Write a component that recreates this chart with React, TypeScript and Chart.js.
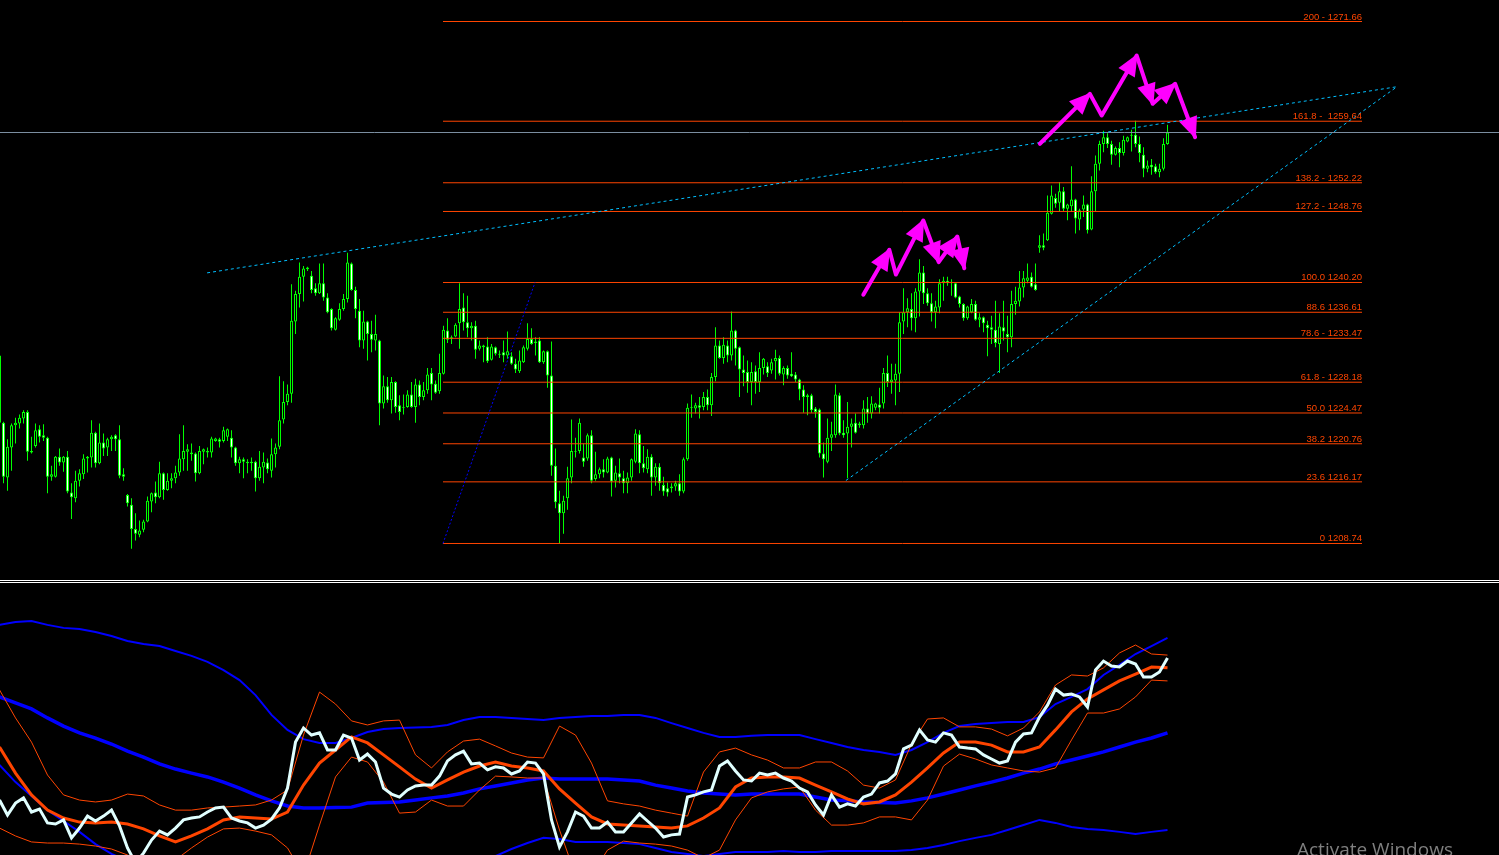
import React, { useEffect, useRef } from "react";
import { Chart, registerables } from "chart.js";

Chart.register(...registerables);

// ---------- price panel data (bar index -1 is the partly hidden first bar) ----------
const firstBar = -1;

const opens = [
  1231.4, 1223.3, 1216.7, 1220.3, 1223.0, 1223.2, 1223.8, 1224.6, 1219.9, 1220.5,
  1222.5, 1221.8, 1221.5, 1216.8, 1216.8, 1219.2, 1218.5, 1219.2, 1214.9, 1214.2,
  1216.3, 1217.1, 1219.0, 1219.1, 1222.1, 1218.4, 1220.9, 1220.3, 1221.3, 1221.8,
  1221.3, 1217.1, 1214.6, 1213.4, 1210.5, 1209.8, 1210.4, 1211.4, 1213.8, 1214.9,
  1214.3, 1217.2, 1215.2, 1216.3, 1216.6, 1217.3, 1218.9, 1219.8, 1219.7, 1219.6,
  1217.2, 1219.8, 1219.9, 1219.7, 1221.1, 1221.3, 1221.1, 1221.6, 1221.5, 1220.3,
  1218.4, 1218.9, 1218.6, 1218.4, 1218.6, 1216.6, 1217.9, 1218.5, 1217.5, 1219.5,
  1220.4, 1223.7, 1225.8, 1226.8, 1235.5, 1238.8, 1240.9, 1241.8, 1241.0, 1239.5,
  1238.9, 1240.1, 1238.4, 1237.0, 1234.5, 1235.7, 1237.0, 1238.2, 1242.5, 1239.3,
  1236.8, 1233.2, 1235.5, 1234.0, 1233.2, 1233.2, 1225.6, 1227.7, 1226.0, 1228.2,
  1225.4, 1225.1, 1225.2, 1226.7, 1225.2, 1227.9, 1226.4, 1227.2, 1229.3, 1228.0,
  1227.1, 1229.2, 1234.4, 1233.4, 1233.7, 1235.3, 1237.2, 1235.4, 1234.7, 1235.0,
  1232.2, 1232.6, 1232.5, 1230.9, 1232.4, 1231.5, 1231.8, 1231.4, 1231.3, 1230.4,
  1229.5, 1230.6, 1232.2, 1233.4, 1232.9, 1233.2, 1230.6, 1231.9, 1229.0, 1218.1,
  1213.6, 1212.4, 1214.2, 1216.7, 1219.8, 1219.9, 1219.1, 1219.0, 1221.8, 1216.5,
  1217.1, 1217.7, 1217.3, 1219.1, 1216.3, 1217.2, 1216.6, 1216.0, 1216.7, 1218.6,
  1221.9, 1218.4, 1217.7, 1219.2, 1216.7, 1218.0, 1215.8, 1215.4, 1215.4, 1215.6,
  1216.0, 1215.0, 1218.9, 1225.1, 1225.0, 1225.4, 1225.2, 1226.4, 1225.4, 1228.8,
  1232.6, 1231.1, 1232.6, 1231.4, 1234.4, 1232.4, 1229.7, 1229.4, 1228.2, 1229.5,
  1228.2, 1229.9, 1230.1, 1229.6, 1230.7, 1231.1, 1229.1, 1229.9, 1229.2, 1229.1,
  1228.5, 1227.3, 1226.4, 1226.6, 1225.0, 1224.9, 1219.6, 1218.6, 1221.5, 1221.8,
  1226.6, 1222.1, 1222.0, 1222.8, 1223.3, 1223.0, 1223.0, 1225.0, 1224.4, 1225.1,
  1225.5, 1225.6, 1229.3, 1228.2, 1228.4, 1229.2, 1235.5, 1236.6, 1237.0, 1235.9,
  1239.1, 1241.4, 1238.9, 1237.7, 1236.6, 1237.2, 1240.1, 1240.4, 1240.1, 1240.1,
  1238.5, 1237.6, 1235.9, 1236.6, 1237.6, 1235.7, 1236.0, 1235.1, 1234.8, 1234.5,
  1232.8, 1234.8, 1234.0, 1233.6, 1237.6, 1237.9, 1239.6, 1240.4, 1240.9, 1240.0,
  1244.4, 1244.7, 1245.3, 1248.5, 1250.4, 1249.8, 1251.2, 1249.1, 1249.4, 1250.2,
  1247.8, 1249.0, 1249.6, 1246.6, 1251.2, 1254.5, 1256.9, 1257.7, 1256.9, 1255.6,
  1256.4, 1255.8, 1257.2, 1257.9, 1258.0, 1256.9, 1255.6, 1253.9, 1254.4, 1254.2,
  1253.5, 1253.9, 1256.9,
];

const highs = [
  1231.8, 1223.4, 1221.3, 1223.2, 1223.9, 1224.3, 1224.8, 1224.8, 1221.6, 1223.2,
  1223.0, 1223.1, 1221.6, 1218.1, 1219.3, 1220.2, 1219.3, 1219.9, 1216.0, 1217.5,
  1217.7, 1219.5, 1219.3, 1223.6, 1222.2, 1223.2, 1222.0, 1221.5, 1221.8, 1221.9,
  1223.0, 1217.8, 1214.7, 1214.2, 1212.4, 1211.5, 1211.6, 1214.4, 1214.9, 1216.2,
  1218.6, 1217.3, 1217.2, 1217.2, 1218.1, 1221.9, 1223.0, 1220.7, 1220.8, 1219.7,
  1220.5, 1220.2, 1220.3, 1221.6, 1221.5, 1221.5, 1222.8, 1222.6, 1222.4, 1220.4,
  1219.2, 1219.1, 1218.9, 1219.1, 1218.7, 1219.9, 1219.7, 1219.0, 1221.4, 1220.8,
  1228.9, 1228.3, 1227.9, 1240.0, 1239.2, 1242.6, 1242.2, 1242.1, 1241.6, 1240.1,
  1242.5, 1242.5, 1238.9, 1237.1, 1236.0, 1237.7, 1238.8, 1243.8, 1242.6, 1239.7,
  1238.2, 1236.8, 1235.6, 1235.6, 1236.3, 1233.3, 1229.0, 1228.8, 1228.8, 1228.3,
  1226.6, 1226.7, 1227.2, 1228.2, 1228.6, 1228.4, 1228.2, 1229.9, 1229.9, 1228.4,
  1231.6, 1235.0, 1235.9, 1233.8, 1235.3, 1240.1, 1238.9, 1238.6, 1235.4, 1235.6,
  1233.2, 1232.7, 1233.6, 1232.8, 1232.5, 1232.0, 1233.2, 1234.3, 1231.8, 1231.0,
  1232.0, 1232.6, 1235.3, 1234.7, 1233.6, 1233.6, 1232.0, 1232.0, 1233.1, 1220.2,
  1215.1, 1214.5, 1218.0, 1223.7, 1221.5, 1223.8, 1220.8, 1222.0, 1222.4, 1219.8,
  1217.9, 1218.9, 1219.2, 1219.2, 1218.1, 1219.0, 1217.5, 1217.3, 1219.0, 1222.5,
  1222.4, 1220.5, 1220.1, 1219.5, 1218.4, 1218.4, 1216.8, 1216.1, 1216.0, 1216.3,
  1217.1, 1219.1, 1225.6, 1226.7, 1225.7, 1226.4, 1227.0, 1227.3, 1229.3, 1234.8,
  1233.2, 1233.6, 1233.2, 1236.7, 1234.5, 1232.5, 1231.4, 1230.8, 1230.6, 1230.2,
  1231.8, 1231.1, 1230.6, 1231.0, 1232.1, 1231.4, 1230.1, 1230.2, 1231.8, 1229.4,
  1228.6, 1227.8, 1226.8, 1226.8, 1225.2, 1225.0, 1220.9, 1223.8, 1223.4, 1227.9,
  1226.9, 1223.6, 1225.8, 1223.8, 1224.4, 1223.4, 1226.0, 1226.4, 1226.5, 1225.7,
  1227.5, 1229.9, 1231.4, 1230.4, 1230.4, 1236.6, 1239.5, 1238.3, 1238.9, 1239.5,
  1243.0, 1242.2, 1239.5, 1238.9, 1238.0, 1240.6, 1240.9, 1240.9, 1240.6, 1240.2,
  1238.6, 1237.7, 1237.4, 1238.2, 1238.0, 1236.5, 1236.1, 1235.6, 1236.2, 1238.0,
  1236.5, 1238.0, 1236.2, 1239.2, 1239.7, 1241.6, 1241.6, 1242.5, 1241.4, 1242.5,
  1245.9, 1246.1, 1250.7, 1251.9, 1250.9, 1252.3, 1251.7, 1249.7, 1254.2, 1250.3,
  1249.1, 1250.7, 1249.7, 1253.0, 1255.5, 1257.3, 1258.5, 1258.2, 1257.3, 1256.6,
  1257.1, 1257.9, 1257.8, 1258.6, 1259.7, 1257.8, 1256.5, 1254.9, 1255.1, 1254.5,
  1254.5, 1257.6, 1259.2,
];

const lows = [
  1223.1, 1216.0, 1215.1, 1217.5, 1220.8, 1222.6, 1223.2, 1218.7, 1219.6, 1220.3,
  1220.9, 1221.1, 1214.8, 1216.3, 1216.7, 1218.1, 1217.4, 1214.8, 1211.7, 1213.7,
  1215.6, 1216.5, 1217.3, 1217.9, 1217.9, 1218.3, 1219.3, 1219.3, 1219.9, 1219.9,
  1216.6, 1216.3, 1213.2, 1208.1, 1209.1, 1209.5, 1210.1, 1211.3, 1212.5, 1213.6,
  1214.2, 1214.0, 1215.1, 1215.4, 1216.0, 1216.9, 1217.5, 1217.5, 1218.7, 1216.2,
  1217.1, 1218.3, 1219.1, 1219.1, 1221.0, 1220.3, 1220.9, 1221.1, 1219.1, 1218.1,
  1217.2, 1216.6, 1217.2, 1217.5, 1215.0, 1216.3, 1216.0, 1217.2, 1216.7, 1217.9,
  1220.1, 1223.2, 1225.4, 1225.7, 1234.0, 1237.2, 1237.9, 1241.6, 1238.9, 1238.6,
  1238.8, 1238.0, 1236.5, 1234.4, 1234.4, 1235.6, 1236.8, 1237.8, 1239.2, 1235.9,
  1232.4, 1232.2, 1230.8, 1231.8, 1232.0, 1223.0, 1225.0, 1225.7, 1224.4, 1224.5,
  1223.6, 1224.3, 1225.1, 1225.1, 1223.3, 1225.4, 1226.0, 1226.8, 1226.0, 1226.8,
  1226.8, 1229.1, 1232.9, 1232.8, 1233.6, 1232.2, 1234.4, 1233.6, 1233.2, 1231.0,
  1232.0, 1230.6, 1230.5, 1230.8, 1231.4, 1231.1, 1230.6, 1231.0, 1230.3, 1229.3,
  1229.3, 1230.5, 1232.0, 1232.7, 1231.4, 1230.5, 1230.4, 1227.5, 1216.9, 1213.0,
  1208.7, 1209.9, 1212.8, 1216.0, 1219.1, 1219.6, 1218.0, 1218.7, 1216.0, 1216.3,
  1216.6, 1216.7, 1217.2, 1214.4, 1215.5, 1216.0, 1214.8, 1214.8, 1216.3, 1218.4,
  1217.2, 1217.3, 1217.2, 1214.5, 1215.7, 1215.1, 1214.5, 1214.4, 1214.9, 1215.1,
  1214.5, 1214.8, 1218.7, 1223.9, 1224.4, 1223.8, 1224.8, 1224.8, 1224.1, 1228.3,
  1231.0, 1230.4, 1230.6, 1230.8, 1230.2, 1226.4, 1227.7, 1226.9, 1225.4, 1226.8,
  1227.0, 1229.1, 1228.8, 1229.2, 1228.5, 1229.0, 1227.8, 1228.6, 1228.8, 1228.2,
  1226.0, 1224.5, 1224.2, 1224.5, 1223.9, 1219.1, 1216.7, 1218.4, 1219.9, 1221.5,
  1221.8, 1221.5, 1216.6, 1220.3, 1222.0, 1222.7, 1222.6, 1223.3, 1223.8, 1224.8,
  1224.4, 1225.0, 1227.6, 1226.8, 1225.4, 1227.0, 1234.0, 1234.8, 1234.4, 1234.2,
  1236.1, 1237.6, 1237.4, 1235.5, 1234.7, 1236.5, 1238.0, 1239.8, 1238.6, 1238.3,
  1237.2, 1235.6, 1235.7, 1236.5, 1235.6, 1234.8, 1234.2, 1231.3, 1232.8, 1232.4,
  1229.3, 1233.2, 1231.8, 1232.4, 1236.3, 1237.3, 1238.4, 1240.1, 1239.6, 1239.2,
  1243.8, 1244.1, 1245.2, 1248.4, 1249.2, 1248.8, 1248.8, 1247.7, 1248.8, 1246.1,
  1246.5, 1248.1, 1246.1, 1246.5, 1248.8, 1253.7, 1255.9, 1256.4, 1254.4, 1255.5,
  1254.1, 1255.5, 1257.1, 1256.0, 1256.5, 1254.7, 1252.9, 1253.5, 1253.2, 1253.3,
  1252.9, 1253.7, 1256.8,
];

const closes = [
  1223.3, 1216.8, 1220.4, 1223.0, 1223.3, 1223.9, 1224.6, 1219.8, 1219.7, 1222.4,
  1221.6, 1221.5, 1216.8, 1217.1, 1219.2, 1218.5, 1219.2, 1215.0, 1214.3, 1216.3,
  1217.2, 1219.0, 1219.2, 1222.1, 1218.4, 1220.9, 1220.2, 1221.3, 1221.6, 1221.3,
  1216.9, 1216.8, 1213.6, 1210.5, 1209.9, 1210.3, 1211.4, 1213.9, 1214.8, 1214.3,
  1217.2, 1215.2, 1216.3, 1216.6, 1217.3, 1219.0, 1219.9, 1220.1, 1219.5, 1217.2,
  1219.9, 1220.1, 1219.7, 1221.4, 1221.4, 1221.0, 1222.4, 1222.5, 1220.3, 1218.4,
  1218.9, 1218.6, 1218.4, 1218.6, 1216.6, 1218.0, 1218.6, 1217.7, 1219.5, 1220.3,
  1223.6, 1225.8, 1226.8, 1235.6, 1238.8, 1240.9, 1241.9, 1242.0, 1239.3, 1238.9,
  1240.1, 1238.4, 1236.6, 1234.7, 1235.9, 1237.0, 1238.2, 1242.6, 1239.3, 1237.0,
  1233.2, 1235.5, 1234.0, 1233.3, 1234.0, 1225.6, 1227.7, 1226.0, 1228.2, 1225.2,
  1224.6, 1225.2, 1226.7, 1225.2, 1227.9, 1226.4, 1227.2, 1229.1, 1227.9, 1226.9,
  1229.3, 1234.5, 1233.3, 1233.6, 1235.1, 1237.0, 1235.4, 1234.7, 1235.0, 1232.1,
  1232.6, 1232.4, 1230.7, 1232.5, 1231.6, 1231.6, 1231.4, 1231.9, 1230.4, 1229.7,
  1230.8, 1232.4, 1233.4, 1232.8, 1233.1, 1230.6, 1231.9, 1229.0, 1218.1, 1213.7,
  1212.4, 1213.9, 1216.6, 1219.9, 1219.9, 1223.3, 1218.6, 1221.8, 1216.3, 1217.1,
  1217.7, 1217.3, 1219.0, 1216.2, 1217.3, 1216.7, 1216.0, 1216.7, 1218.9, 1222.0,
  1218.4, 1217.8, 1219.2, 1216.7, 1218.0, 1216.0, 1215.0, 1214.9, 1215.6, 1216.0,
  1215.0, 1218.9, 1225.1, 1225.2, 1225.4, 1225.1, 1226.4, 1225.4, 1228.8, 1232.6,
  1231.1, 1232.7, 1231.4, 1234.4, 1232.2, 1229.7, 1229.3, 1228.2, 1229.4, 1228.2,
  1229.9, 1231.0, 1229.3, 1230.6, 1231.1, 1229.2, 1229.9, 1229.0, 1228.9, 1228.5,
  1227.3, 1226.4, 1226.6, 1224.8, 1224.6, 1219.6, 1218.9, 1221.5, 1221.9, 1226.7,
  1222.0, 1221.8, 1222.8, 1223.2, 1222.1, 1223.2, 1225.0, 1224.4, 1225.6, 1225.6,
  1225.1, 1229.3, 1228.2, 1228.5, 1229.2, 1235.4, 1236.6, 1237.1, 1235.9, 1239.1,
  1241.4, 1238.9, 1237.7, 1236.6, 1237.3, 1240.1, 1240.4, 1240.1, 1240.2, 1238.4,
  1237.6, 1235.9, 1237.3, 1237.6, 1235.7, 1236.0, 1235.3, 1234.7, 1234.5, 1232.9,
  1234.9, 1234.3, 1233.6, 1237.6, 1238.0, 1239.6, 1240.7, 1240.8, 1239.7, 1239.3,
  1244.7, 1244.4, 1248.6, 1250.7, 1249.7, 1251.2, 1249.1, 1249.6, 1250.2, 1247.9,
  1248.9, 1249.6, 1246.5, 1251.2, 1254.5, 1256.9, 1257.7, 1256.9, 1255.6, 1256.4,
  1255.8, 1257.4, 1257.7, 1258.0, 1256.9, 1255.8, 1253.9, 1254.3, 1254.1, 1253.5,
  1253.9, 1256.9, 1258.28,
];

// Fibonacci expansion levels
const fibLevels = [1271.66, 1259.64, 1252.22, 1248.76, 1240.2, 1236.61, 1233.47, 1228.18, 1224.47, 1220.76, 1216.17, 1208.74];
const fibLabels = [
  "200 - 1271.66", "161.8 -  1259.64", "138.2 - 1252.22", "127.2 - 1248.76",
  "100.0 1240.20", "88.6 1236.61", "78.6 - 1233.47", "61.8 - 1228.18",
  "50.0 1224.47", "38.2 1220.76", "23.6 1216.17", "0 1208.74",
];
const fibStartBar = 109.875;
const fibEndBar = 339.625;
const bidPrice = 1258.28;

// drawn objects (bar index, price)
const trendUpper = [{ x: 50.9, y: 1241.36 }, { x: 348.4, y: 1263.8 }];
const trendLower = [{ x: 210.6, y: 1216.33 }, { x: 348.4, y: 1263.8 }];
const fibDiagonal = [{ x: 109.875, y: 1208.74 }, { x: 132.875, y: 1240.2 }];
const arrowLeft = [
  { x: 214.95, y: 1238.72 }, { x: 221.45, y: 1244.14 }, { x: 223.1, y: 1241.16 },
  { x: 229.95, y: 1247.67 }, { x: 233.8, y: 1242.65 }, { x: 238.45, y: 1245.74 }, { x: 240.2, y: 1241.92 },
];
const arrowRight = [
  { x: 259.1, y: 1256.92 }, { x: 271.6, y: 1262.94 }, { x: 274.55, y: 1260.33 },
  { x: 283.3, y: 1267.56 }, { x: 287.3, y: 1261.74 }, { x: 292.9, y: 1264.15 }, { x: 297.9, y: 1257.71 },
];
const arrowHeadIdx = [1, 3, 4, 5, 6];

// ---------- indicator panel (every 4th bar for smooth lines, every 2nd bar for the oscillator) ----------
const blueUpper = [84.6, 85.7, 86.0, 84.6, 83.5, 83.1, 82.0, 80.5, 78.7, 77.6, 76.8, 75.0, 73.2, 71.0, 68.0, 64.3, 58.8, 51.5, 46.0, 42.6, 41.2, 41.2, 43.0, 45.2, 46.3, 46.7, 46.9, 47.1, 47.8, 49.6, 50.7, 50.7, 50.4, 50.0, 49.6, 50.4, 50.7, 51.1, 51.1, 51.5, 51.5, 50.4, 48.5, 46.7, 44.9, 43.4, 43.4, 43.8, 44.1, 44.1, 44.1, 42.6, 41.2, 39.7, 38.6, 37.9, 36.8, 38.6, 41.5, 44.9, 47.4, 48.2, 48.5, 48.9, 48.9, 50.7, 55.5, 58.1, 61.0, 66.2, 69.9, 73.9, 76.8, 79.8];
const blueMid = [58.1, 55.9, 53.7, 50.4, 47.4, 44.9, 43.0, 40.8, 38.2, 36.0, 33.5, 31.6, 30.1, 28.7, 26.8, 24.6, 22.1, 19.9, 18.0, 17.3, 17.3, 17.5, 17.6, 19.1, 19.3, 19.5, 20.2, 21.0, 21.7, 22.8, 24.3, 25.4, 26.5, 27.6, 28.3, 27.9, 27.9, 27.9, 27.9, 27.6, 27.2, 25.7, 24.6, 23.5, 22.8, 22.4, 22.1, 22.4, 22.4, 22.4, 22.4, 21.3, 20.2, 19.9, 19.5, 19.3, 19.1, 19.9, 21.0, 22.4, 23.9, 25.4, 26.8, 28.3, 30.1, 31.6, 33.5, 34.9, 36.4, 37.9, 39.7, 41.5, 43.0, 44.9];
const blueLower = [33.1, 26.8, 21.7, 16.5, 12.5, 8.5, 4.0, 0.4, -2.2, -5.5, -9.9, -11.8, -12.9, -13.6, -14.3, -15.1, -14.7, -11.8, -9.9, -8.1, -6.6, -6.3, -7.7, -7.0, -7.7, -7.7, -6.6, -5.1, -4.4, -4.0, -2.2, -0.4, 2.2, 4.4, 6.3, 5.9, 4.8, 4.8, 4.8, 4.4, 4.0, 2.6, 1.1, 0.4, -0.4, 0.4, 1.1, 1.1, 1.1, 1.5, 1.1, 1.1, 1.5, 1.5, 1.5, 1.5, 1.5, 1.8, 2.6, 3.7, 5.1, 6.3, 7.4, 9.2, 11.0, 12.9, 11.8, 10.3, 9.6, 9.2, 8.5, 7.7, 8.5, 9.2];
const orangeMid = [39.7, 30.1, 22.1, 16.5, 13.6, 12.1, 11.8, 12.1, 11.4, 9.6, 7.0, 4.8, 7.0, 9.6, 12.9, 14.0, 13.6, 13.2, 15.8, 25.7, 33.8, 38.6, 43.4, 41.2, 36.8, 32.4, 27.9, 24.6, 27.6, 30.5, 32.7, 34.2, 32.7, 32.0, 30.9, 24.3, 19.1, 14.0, 11.4, 11.0, 10.7, 10.3, 9.9, 10.7, 13.6, 17.3, 25.0, 28.3, 28.7, 28.7, 28.3, 25.7, 23.2, 20.6, 18.8, 19.5, 22.1, 26.8, 32.0, 37.5, 41.5, 41.5, 40.4, 37.9, 37.9, 39.7, 46.0, 52.6, 57.4, 60.7, 64.0, 66.5, 69.1, 68.8];
const orangeUpper = [60.7, 50.4, 41.5, 29.4, 22.1, 20.2, 19.5, 20.2, 22.4, 21.7, 18.4, 16.5, 16.5, 17.3, 17.6, 18.0, 18.4, 20.2, 23.9, 44.1, 59.9, 55.5, 49.3, 47.8, 49.3, 49.6, 36.8, 32.0, 37.9, 41.9, 42.6, 40.1, 37.5, 36.0, 35.7, 47.4, 44.1, 33.8, 19.9, 18.8, 18.0, 16.5, 15.4, 14.3, 30.5, 37.9, 39.3, 36.8, 34.9, 32.0, 32.0, 34.2, 34.2, 30.9, 25.7, 24.6, 27.6, 40.8, 50.0, 50.4, 47.1, 47.1, 46.3, 43.8, 46.7, 52.6, 62.5, 66.2, 65.8, 68.8, 74.3, 77.2, 73.9, 73.5];
const orangeLower = [9.9, 7.0, 4.8, 4.4, 4.4, 4.0, 3.3, 2.2, 0, -2.6, -4.0, -1.8, 2.6, 6.6, 9.6, 9.9, 8.8, 7.4, 2.6, -7.4, 11.0, 28.7, 36.0, 34.2, 26.8, 15.4, 15.8, 20.2, 18.0, 18.0, 23.9, 29.0, 28.7, 28.3, 28.3, 9.2, -7.4, -7.4, 1.8, 5.1, 4.4, 4.0, 3.3, 1.8, -1.1, 1.8, 12.9, 21.0, 23.2, 24.3, 25.0, 16.5, 11.0, 11.0, 11.8, 14.0, 14.0, 12.9, 20.2, 32.7, 37.1, 35.3, 33.1, 32.0, 30.9, 30.5, 32.0, 42.3, 52.2, 52.2, 53.7, 58.1, 64.3, 64.0];
const oscillator = [
  20.2, 14.7, 19.1, 21.0, 15.8, 16.9, 11.8, 11.4, 12.9, 6.3,
  9.9, 14.3, 12.5, 14.3, 16.5, 10.7, 2.6, -2.9, 0.7, 5.5,
  8.8, 7.4, 9.9, 12.9, 13.6, 14.0, 15.8, 17.3, 17.6, 13.6,
  12.5, 11.8, 9.9, 11.0, 13.2, 17.3, 24.6, 41.5, 46.7, 44.1,
  44.9, 38.6, 38.6, 44.1, 43.0, 34.9, 37.1, 34.2, 24.6, 22.4,
  21.3, 23.9, 25.4, 25.7, 25.7, 29.0, 34.6, 36.8, 38.2, 33.5,
  33.8, 31.3, 32.4, 32.0, 29.8, 30.9, 34.2, 33.8, 29.8, 12.9,
  2.9, 8.5, 15.8, 14.3, 9.9, 9.9, 12.1, 8.5, 8.5, 11.8,
  15.1, 12.5, 9.9, 6.6, 7.4, 7.7, 21.3, 22.1, 23.2, 23.9,
  32.7, 34.6, 30.9, 27.6, 27.2, 30.1, 29.4, 30.1, 28.3, 27.2,
  24.6, 23.2, 18.4, 14.7, 22.1, 17.6, 18.8, 18.0, 21.3, 22.4,
  26.5, 27.2, 29.8, 39.0, 40.4, 46.0, 42.3, 41.5, 44.9, 44.1,
  39.7, 39.3, 39.0, 36.8, 35.3, 33.8, 34.6, 41.5, 44.5, 44.9,
  50.7, 55.1, 61.0, 58.8, 59.2, 58.1, 54.4, 68.0, 71.3, 69.5,
  69.1, 71.3, 70.2, 65.4, 65.4, 67.3, 72.4,
];

// ---------- scales ----------
const xMin = -0.875;
const xMax = 373.875;
const priceMin = 1204.3396;
const priceMax = 1274.2516;

const LIME = "#00FF00";
const FIB = "#FF4500";

const fibTextPlugin = {
  id: "fibText",
  afterDatasetsDraw(chart: any) {
    const { ctx, scales } = chart;
    ctx.save();
    ctx.font = '9.5px "Liberation Sans", Arial, sans-serif';
    ctx.fillStyle = FIB;
    ctx.textAlign = "right";
    ctx.textBaseline = "alphabetic";
    const xr = scales.x.getPixelForValue(fibEndBar);
    fibLevels.forEach((lv, i) => {
      const y = scales.y.getPixelForValue(lv);
      ctx.fillText(fibLabels[i], xr, y - 2);
    });
    ctx.restore();
  },
};

const arrowHeadPlugin = {
  id: "arrowHeads",
  afterDatasetsDraw(chart: any) {
    const ctx = chart.ctx;
    chart.data.datasets.forEach((ds: any, di: number) => {
      if (!ds.arrowHeads) return;
      const pts = chart.getDatasetMeta(di).data;
      ctx.save();
      ctx.fillStyle = ds.borderColor;
      ds.arrowHeads.forEach((k: number) => {
        const a = pts[k - 1];
        const b = pts[k];
        const dx = b.x - a.x;
        const dy = b.y - a.y;
        const len = Math.hypot(dx, dy) || 1;
        const ux = dx / len;
        const uy = dy / len;
        const L = 20;
        const W = 9.5;
        const bx = b.x - ux * L;
        const by = b.y - uy * L;
        ctx.beginPath();
        ctx.moveTo(b.x + ux * 2, b.y + uy * 2);
        ctx.lineTo(bx - uy * W, by + ux * W);
        ctx.lineTo(bx + uy * W, by - ux * W);
        ctx.closePath();
        ctx.fill();
      });
      ctx.restore();
    });
  },
};

function lineDs(data: any[], color: string, width: number, order: number, extra: any = {}) {
  return {
    type: "line",
    data,
    borderColor: color,
    backgroundColor: color,
    borderWidth: width,
    pointRadius: 0,
    pointHoverRadius: 0,
    fill: false,
    tension: 0,
    order,
    ...extra,
  };
}

function series(values: number[], step: number) {
  return values.map((v, k) => ({ x: firstBar + k * step, y: v }));
}

export default function App() {
  const topRef = useRef<HTMLCanvasElement>(null);
  const botRef = useRef<HTMLCanvasElement>(null);

  useEffect(() => {
    document.body.style.margin = "0";
    document.body.style.background = "#000";
    document.body.style.overflow = "hidden";

    const wicks = lows.map((l, j) => ({ x: firstBar + j, y: [l, highs[j]] }));
    const bodies = opens.map((o, j) => ({ x: firstBar + j, y: [o, closes[j]] }));

    const fibDatasets = fibLevels.map((lv) =>
      lineDs([{ x: fibStartBar, y: lv }, { x: fibEndBar, y: lv }], FIB, 1, 50)
    );

    const topChart = new Chart(topRef.current as HTMLCanvasElement, {
      type: "bar",
      data: {
        datasets: [
          {
            type: "bar",
            data: wicks,
            backgroundColor: LIME,
            borderWidth: 0,
            barThickness: 1,
            inflateAmount: 0,
            grouped: false,
            order: 100,
          } as any,
          {
            type: "bar",
            data: bodies,
            backgroundColor: (c: any) => (closes[c.dataIndex] >= opens[c.dataIndex] ? "#000000" : "#FFFFFF"),
            borderColor: LIME,
            borderWidth: 1,
            borderSkipped: false,
            barThickness: 3,
            inflateAmount: 0,
            grouped: false,
            order: 90,
          } as any,
          ...fibDatasets,
          lineDs([{ x: xMin, y: bidPrice }, { x: xMax, y: bidPrice }], "#7b8ea0", 1, 40),
          lineDs(trendUpper, "#00BFFF", 1, 30, { borderDash: [3, 3] }),
          lineDs(trendLower, "#00BFFF", 1, 30, { borderDash: [3, 3] }),
          lineDs(fibDiagonal, "#0000FF", 1, 30, { borderDash: [2, 2] }),
          lineDs(arrowLeft, "#FF00FF", 4, 10, { arrowHeads: arrowHeadIdx, borderCapStyle: "round", borderJoinStyle: "round" }),
          lineDs(arrowRight, "#FF00FF", 4, 10, { arrowHeads: arrowHeadIdx, borderCapStyle: "round", borderJoinStyle: "round" }),
        ] as any,
      },
      options: {
        animation: false,
        responsive: false,
        devicePixelRatio: 1,
        events: [],
        layout: { padding: 0 },
        scales: {
          x: { type: "linear", min: xMin, max: xMax, offset: false, display: false },
          y: { type: "linear", min: priceMin, max: priceMax, beginAtZero: false, display: false },
        },
        plugins: { legend: { display: false }, tooltip: { enabled: false } },
      } as any,
      plugins: [fibTextPlugin, arrowHeadPlugin],
    });

    const botChart = new Chart(botRef.current as HTMLCanvasElement, {
      type: "line",
      data: {
        datasets: [
          lineDs(series(blueUpper, 4), "#0000FF", 2, 60),
          lineDs(series(blueLower, 4), "#0000FF", 2, 60),
          lineDs(series(blueMid, 4), "#0000FF", 3.5, 50),
          lineDs(series(orangeUpper, 4), FIB, 1, 40),
          lineDs(series(orangeLower, 4), FIB, 1, 40),
          lineDs(series(orangeMid, 4), FIB, 3, 30),
          lineDs(series(oscillator, 2), "#E0FFFF", 3, 10),
        ] as any,
      },
      options: {
        animation: false,
        responsive: false,
        devicePixelRatio: 1,
        events: [],
        layout: { padding: 0 },
        scales: {
          x: { type: "linear", min: xMin, max: xMax, offset: false, display: false },
          y: { type: "linear", min: 0, max: 100, display: false },
        },
        plugins: { legend: { display: false }, tooltip: { enabled: false } },
      } as any,
    });

    return () => {
      topChart.destroy();
      botChart.destroy();
    };
  }, []);

  return (
    <div style={{ position: "relative", width: 1499, height: 855, background: "#000", overflow: "hidden" }}>
      <canvas ref={topRef} width={1499} height={580} style={{ position: "absolute", left: 0, top: 0, display: "block" }} />
      <div style={{ position: "absolute", left: 0, top: 580, width: 1499, height: 1, background: "#FFFFFF" }} />
      <div style={{ position: "absolute", left: 0, top: 582, width: 1499, height: 1, background: "#FFFFFF" }} />
      <canvas ref={botRef} width={1499} height={272} style={{ position: "absolute", left: 0, top: 583, display: "block" }} />
      <div
        style={{
          position: "absolute",
          left: 1297,
          top: 840,
          color: "#7f7f7f",
          fontFamily: '"Open Sans", "Noto Sans", sans-serif',
          fontSize: 19,
          lineHeight: "19px",
          whiteSpace: "nowrap",
        }}
      >
        Activate Windows
      </div>
    </div>
  );
}
